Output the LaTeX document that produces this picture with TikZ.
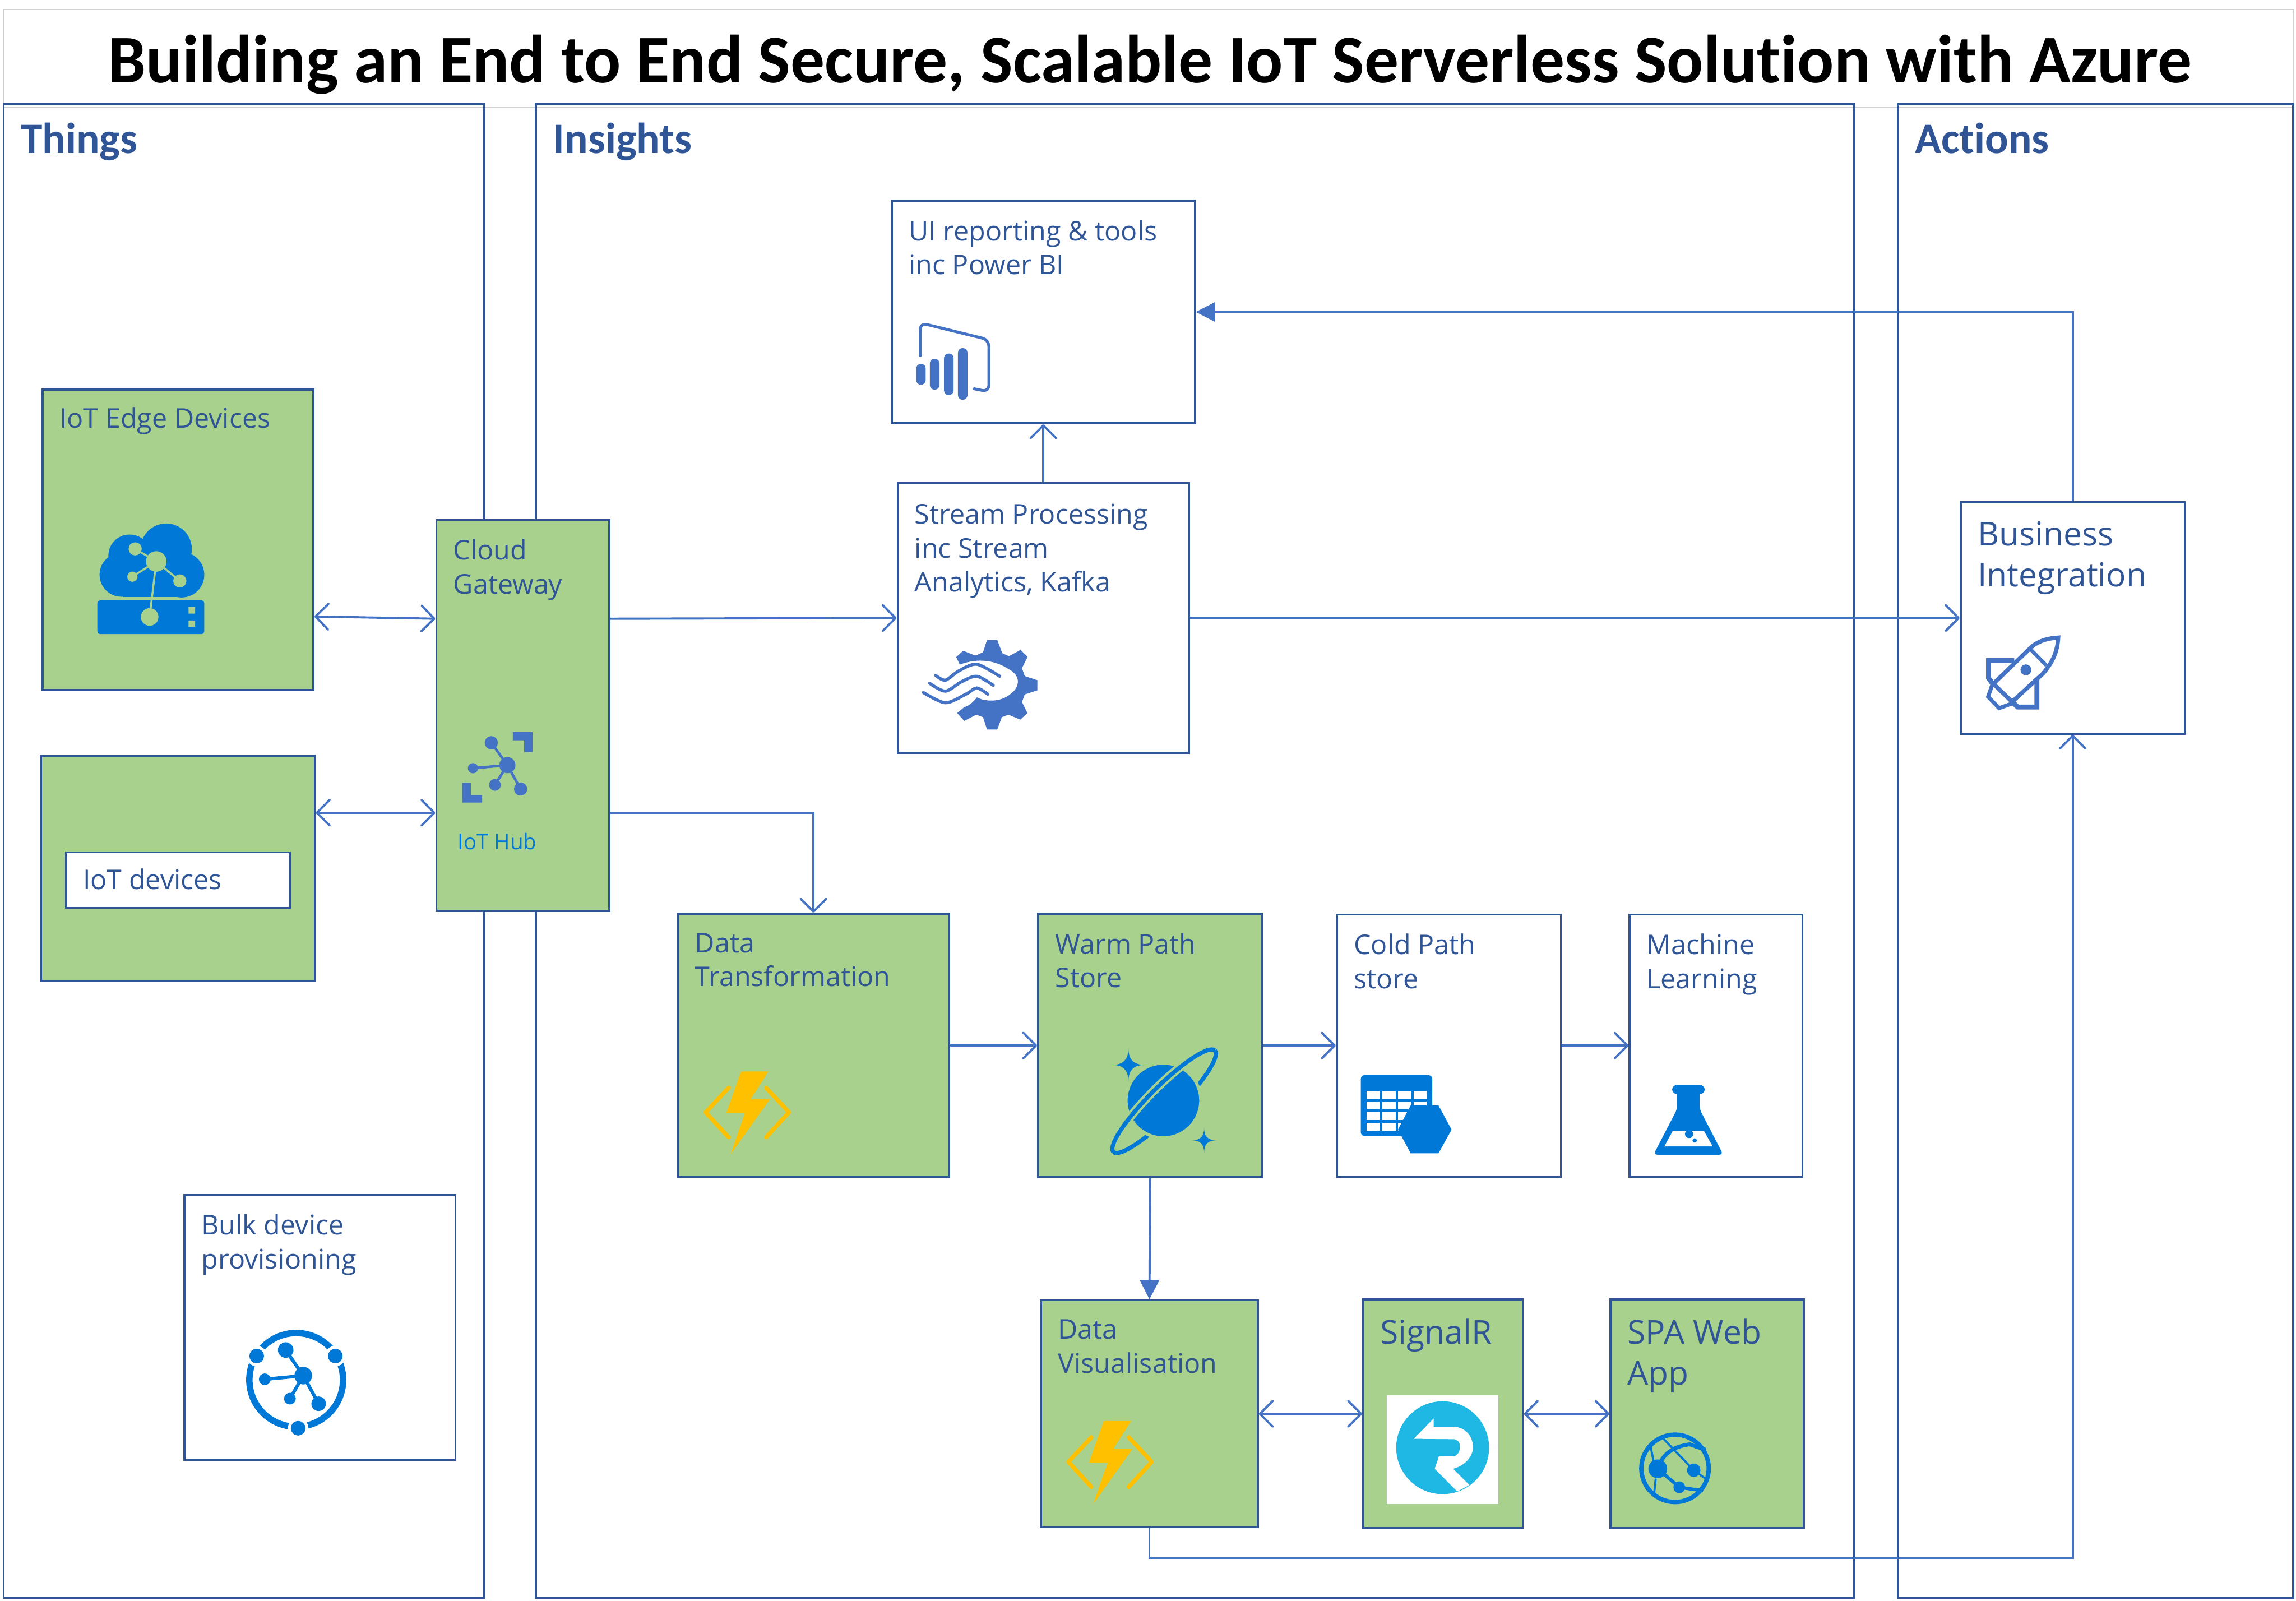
\documentclass[tikz,border=0pt]{standalone}
\usepackage{fontspec}
\setmainfont{Open Sans}
\newfontfamily\titlefont[Ligatures=NoCommon]{Carlito}
\usepackage{xcolor}
\usetikzlibrary{arrows.meta}
\definecolor{linecol}{HTML}{2F5597}
\definecolor{arrowcol}{HTML}{4472C4}
\definecolor{boxgreen}{HTML}{A9D18E}
\definecolor{iconblue}{HTML}{0078D7}
\definecolor{boltcol}{HTML}{FFC000}
\definecolor{signalcol}{HTML}{1FB8E4}
\tikzset{
    panel/.style={draw=linecol, line width=0.8pt, inner sep=0pt},
    whitebox/.style={draw=linecol, line width=0.8pt, fill=white, inner sep=0pt},
    greenbox/.style={whitebox, fill=boxgreen},
    boxtext/.style={anchor=north west, align=left, inner sep=0pt, xshift=0.24cm, yshift=-0.27cm, text=linecol, font=\fontsize{10.55}{13.2}\selectfont},
    bigtext/.style={boxtext, font=\fontsize{12.8}{16}\selectfont},
    headtext/.style={boxtext, yshift=0.01cm, font=\titlefont\bfseries\fontsize{16.9}{20}\selectfont},
    link/.style={draw=arrowcol, line width=0.85pt},
    filledlink/.style={link, -{Triangle[length=7.5pt,width=7.5pt]}},
    pics/funcicon/.style={code={
        \fill[boltcol] (-3.9,-28.3) -- (14.7,-28.3) -- (2.6,-9.3) -- (15.7,-9.3) -- (-11.1,28.3) -- (-1.3,0.2) -- (-14.1,0.2) -- cycle;
        \draw[boltcol, line width=1.6pt, line join=round, line cap=round] (-12.4,-17.2) -- (-28.1,-0.4) -- (-12.4,16.7);
        \draw[boltcol, line width=1.6pt, line join=round, line cap=round] (13.1,-17.2) -- (28.8,-0.4) -- (13.1,16.7);
    }},
    pics/sparkle/.style={code={
        \fill[iconblue] (0,-#1) .. controls (0,-0.3*#1) and (0.3*#1,0) .. (#1,0) .. controls (0.3*#1,0) and (0,0.3*#1) .. (0,#1)
            .. controls (0,0.3*#1) and (-0.3*#1,0) .. (-#1,0) .. controls (-0.3*#1,0) and (0,-0.3*#1) .. (0,-#1) -- cycle;
    }},
}

\begin{document}
\begin{tikzpicture}[x=0.02cm, y=-0.02cm, >={Straight Barb[length=5pt,width=10pt,line width=0.85pt,round]}, node distance=2.8cm]
    \useasboundingbox (0,0) rectangle (1568,1093);

    % title strip and the three columns
    \node[draw=black!18, line width=0.4pt, minimum width=31.28cm, minimum height=1.334cm, inner sep=0pt] (titlebar) at (784.5,40) {};
    \node[font=\titlefont\bfseries\fontsize{26.5}{30}\selectfont, inner sep=0pt] (titletext) at (785,44) {Building an End to End Secure, Scalable IoT Serverless Solution with Azure};
    \node[panel, minimum width=6.56cm, minimum height=20.4cm, label={[headtext]north west:Things}] (things) at (166.5,581) {};
    \node[panel, minimum width=18cm, minimum height=20.4cm, label={[headtext]north west:Insights}] (insights) at (816,581) {};
    \node[panel, minimum width=5.4cm, minimum height=20.4cm, label={[headtext]north west:Actions}] (actions) at (1431,581) {};

    % things
    \node[greenbox, minimum width=3.7cm, minimum height=4.1cm, label={[boxtext, yshift=0.02cm]north west:IoT Edge Devices}] (edge) at (121.5,368.5) {};
    \node[greenbox, minimum width=3.74cm, minimum height=3.08cm, below of=edge, yshift=-1.69cm] (devices) {};
    \node[whitebox, minimum width=3.06cm, minimum height=0.76cm, label={[boxtext, yshift=0.04cm]north west:IoT devices}] (devicesin) at (121.5,601) {};
    \node[whitebox, minimum width=3.7cm, minimum height=3.62cm, label={[boxtext]north west:Bulk device\\provisioning}] (bulk) at (218.5,906.5) {};
    \node[greenbox, minimum width=2.36cm, minimum height=5.34cm, label={[boxtext]north west:Cloud\\Gateway}] (gateway) at (357,488.5) {};
    \node[text=iconblue, font=\fontsize{8.4}{10}\selectfont, inner sep=0pt] (hublabel) at (339.5,574.5) {IoT Hub};

    % insights
    \node[whitebox, minimum width=3.98cm, minimum height=3.68cm, label={[boxtext, yshift=-0.02cm]north west:Stream Processing\\inc Stream\\Analytics, Kafka}] (stream) at (712.5,422) {};
    \node[whitebox, minimum width=4.14cm, minimum height=3.04cm, above of=stream, yshift=1.38cm, label={[boxtext]north west:UI reporting \& tools\\inc Power BI}] (reporting) {};
    \node[greenbox, minimum width=3.7cm, minimum height=3.6cm, label={[boxtext]north west:Data\\Transformation}] (transform) at (555.5,714) {};
    \node[greenbox, minimum width=3.06cm, minimum height=3.6cm, right of=transform, xshift=1.8cm, label={[boxtext]north west:Warm Path\\Store}] (warm) {};
    \node[whitebox, minimum width=3.06cm, minimum height=3.58cm, right of=warm, xshift=1.28cm, label={[boxtext]north west:Cold Path\\store}] (cold) {};
    \node[whitebox, minimum width=2.36cm, minimum height=3.58cm, right of=cold, xshift=0.85cm, label={[boxtext]north west:Machine\\Learning}] (learning) {};
    \node[greenbox, minimum width=2.96cm, minimum height=3.1cm, below of=warm, xshift=-0.01cm, yshift=-2.23cm, label={[boxtext]north west:Data\\Visualisation}] (visual) {};
    \node[greenbox, minimum width=2.18cm, minimum height=3.12cm, right of=visual, xshift=1.21cm, label={[bigtext]north west:SignalR}] (signalr) {};
    \node[greenbox, minimum width=2.64cm, minimum height=3.12cm, right of=signalr, xshift=0.81cm, label={[bigtext]north west:SPA Web\\App}] (spa) {};

    % actions
    \node[whitebox, minimum width=3.06cm, minimum height=3.16cm, label={[bigtext]north west:Business\\Integration}] (business) at (1415.5,422) {};

    % connectors
    \coordinate (low) at (1100,1064);
    \draw[link, <->] ([yshift=-1.05cm]edge.east) -- ([yshift=1.32cm]gateway.west);
    \draw[link, <->] (devices.east |- 0,555) -- (gateway.west |- 0,555);
    \draw[link, ->] ([yshift=1.32cm]gateway.east) -- (stream.west);
    \draw[link, ->] (gateway.east |- 0,555) -| (transform.north);
    \draw[link, ->] (stream.north) -- (reporting.south);
    \draw[link, ->] (stream.east) -- (business.west);
    \draw[filledlink] (business.north) |- (reporting.east);
    \draw[link, ->] (transform.east) -- (warm.west);
    \draw[link, ->] (warm.east) -- (cold.west);
    \draw[link, ->] (cold.east) -- (learning.west);
    \draw[filledlink] (warm.south) -- (visual.north);
    \draw[link, <->] (visual.east) -- (signalr.west);
    \draw[link, <->] (signalr.east) -- (spa.west);
    \draw[link, ->] (visual.south) |- (low) -| (business.south);

    % edge device icon
    \fill[iconblue] (113.5,375) circle (17.5) (88.5,379.5) circle (14.5) (83,392.5) circle (15) (124,392.5) circle (15.5);
    \fill[iconblue] (84,385) rectangle (125,407.5);
    \fill[iconblue, rounded corners=1pt] (66.5,410) rectangle (139.5,433);
    \draw[boxgreen, line width=0.75pt] (92.3,374.8) -- (106.7,383.4) -- (90.4,393.8) (106.7,383.4) -- (122.8,396.7) (106.7,383.4) -- (102.2,421.3);
    \fill[boxgreen] (106.7,383.4) circle (7) (92.3,374.8) circle (4.5) (90.4,393.8) circle (3.5) (122.8,396.7) circle (4.5) (102.2,421.3) circle (6);
    \fill[boxgreen] (128.8,414.6) rectangle (133.3,419) (128.8,423.7) rectangle (133.3,428.1);

    % iot devices hub icon
    \draw[arrowcol, line width=1pt] (335.5,507.2) -- (346.5,522.5) -- (323,524.6) (346.5,522.5) -- (338,536) (346.5,522.5) -- (355.5,538.8);
    \fill[arrowcol] (346.5,522.5) circle (5.5) (335.5,507.2) circle (4.5) (323,524.6) circle (3.5) (338,536) circle (4) (355.5,538.8) circle (4.5);
    \fill[arrowcol] (350.2,500) -- (363.7,500) -- (363.7,513.6) -- (358,513.6) -- (358,505.5) -- (350.2,505.5) -- cycle;
    \fill[arrowcol] (315.7,534.5) -- (321.5,534.5) -- (321.5,543) -- (329.3,543) -- (329.3,548) -- (315.7,548) -- cycle;

    % provisioning icon
    \draw[iconblue, line width=2.5pt] (202.3,942.3) circle (32);
    \fill[white] (175.3,926) circle (7) (229,926) circle (7) (203.6,975.3) circle (7);
    \fill[iconblue] (175.3,926) circle (5) (229,926) circle (5) (203.6,975.3) circle (5);
    \draw[iconblue, line width=1.3pt] (195.1,921.9) -- (207.1,939.4) -- (180.8,941.9) (207.1,939.4) -- (198,955.1) (207.1,939.4) -- (217.6,958.6);
    \fill[iconblue] (207.1,939.4) circle (6) (195.1,921.9) circle (5.3) (180.8,941.9) circle (4) (198,955.1) circle (4) (217.6,958.6) circle (5);

    % power bi icon
    \draw[arrowcol, line width=1.1pt, line cap=round, rounded corners=2.5pt] (628.5,242.9) -- (628.5,220.5) -- (675.3,232) -- (675.3,267.5) -- (665.3,265.5);
    \fill[arrowcol, rounded corners=1.8pt] (625.7,248.5) rectangle (632.2,262.7) (635,245) rectangle (641.6,266.1) (644.7,241.4) rectangle (651.2,269.8) (654.2,237.7) rectangle (660.7,273);

    % stream icon
    \fill[arrowcol] (653,448.7) -- (657.8,444.4) -- (666.1,447.7) -- (671.3,445.5) -- (674.1,437) -- (681,437) -- (684.5,446.1) -- (689,448.1) -- (697,443.8) -- (701.7,448.5) -- (697.9,456.3) -- (699.8,461.7) -- (708.4,464.5) -- (708.4,471.4) -- (699.8,474.2) -- (697.9,479.4) -- (701.6,486.9) -- (696.8,491.4) -- (688.7,488) -- (684.2,489.7) -- (681,498.2) -- (674.1,498.2) -- (671.3,489.7) -- (666.7,488) -- (658.5,492.3) -- (653.7,486.9) -- (658.5,482.9)
        .. controls (662,482) and (665,479) .. (667.2,476.2) .. controls (672,479) and (683,480) .. (690,474) .. controls (697,469) and (697,461) .. (689,457) .. controls (680,451) and (668,449) .. (655.5,453.8) -- cycle;
    \draw[arrowcol, line width=1.2pt, line cap=round] plot[smooth] coordinates {(639,461.2) (645.6,464.5) (655,458) (667.1,453.6) (682.7,461.8)};
    \draw[arrowcol, line width=1.2pt, line cap=round] plot[smooth] coordinates {(634.9,466.6) (645.6,472) (656.7,465.5) (667.1,461.8) (678.3,468)};
    \draw[arrowcol, line width=1.2pt, line cap=round] plot[smooth] coordinates {(630.6,472.9) (645.6,479.9) (659.7,474) (667.1,469.8) (674.6,474.1)};

    % business icon
    \draw[arrowcol, line width=1.6pt, line join=miter] (1405.6,435.4) .. controls (1396,436) and (1390,439) .. (1386.3,442.8) -- (1361.3,466.9) -- (1374.1,479.3) -- (1395.2,459.9) .. controls (1402,452) and (1405,445) .. (1405.6,435.4) -- cycle;
    \draw[arrowcol, line width=1.4pt] (1386.9,443.6) -- (1397.6,454.5);
    \draw[arrowcol, line width=1.9pt] (1375.6,451) -- (1358,451) -- (1358,463) -- (1360.5,466.5);
    \draw[arrowcol, line width=1.9pt] (1391,463.8) -- (1391,482.8) -- (1377.9,482.8) -- (1375,480.1);
    \draw[arrowcol, line width=1.5pt] (1360.5,467.7) -- (1357.7,475.8) -- (1365.2,483.6) -- (1373.8,480.5);
    \fill[arrowcol] (1383.5,457.4) circle (3.7);

    % function icons
    \pic at (510,760) {funcicon};
    \pic at (757.7,998.7) {funcicon};

    % planet icon
    \begin{scope}[shift={(795,752)}, rotate=45]
        \draw[iconblue, line width=1.6pt] (-49,0) arc[start angle=180, end angle=0, x radius=49, y radius=10];
    \end{scope}
    \fill[iconblue, draw=boxgreen, line width=1.2pt] (794.5,751.5) circle (25.5);
    \begin{scope}[shift={(795,752)}, rotate=45]
        \draw[boxgreen, line width=3.4pt] (-34.6,-7.1) arc[start angle=225, end angle=315, x radius=49, y radius=10];
        \draw[iconblue, line width=1.6pt] (-49,0) arc[start angle=180, end angle=360, x radius=49, y radius=10];
    \end{scope}
    \pic at (770.6,727.2) {sparkle=11.5};
    \pic at (822.3,778.7) {sparkle=8.5};

    % table icon
    \fill[iconblue, rounded corners=1.5pt] (929.3,734.2) rectangle (978.1,775.8);
    \foreach \cx in {933.1,944,954.7,965.4} {
        \foreach \cy in {745,752.3,759.6,766.8} {
            \fill[white] (\cx,\cy) rectangle ++(9,5.4);
        }
    }
    \fill[iconblue] (963.4,754.8) -- (982.3,754.8) -- (991.3,771.4) -- (982.3,787.6) -- (963.4,787.6) -- (954.7,771.4) -- cycle;

    % flask icon
    \fill[iconblue, rounded corners=2pt] (1141.9,740.8) rectangle (1164.2,747.2);
    \fill[iconblue, rounded corners=1.5pt] (1145.3,745) -- (1160.7,745) -- (1160.7,757.5) -- (1176.8,788.5) -- (1129.2,788.5) -- (1145.3,757.5) -- cycle;
    \fill[white] (1142.4,772.2) -- (1163.6,772.2) -- (1169.6,782.9) -- (1136.6,782.9) -- cycle;
    \fill[iconblue] (1153.5,774.4) circle (2.8) (1157.3,778.8) circle (1.5);

    % signalr icon
    \fill[white] (947,952.7) rectangle (1023.3,1027.2);
    \fill[signalcol] (985.2,988.6) circle (31.7);
    \fill[white] (965.5,982.5) -- (979.1,968.6) -- (979.1,974.3) -- (993.4,974.3) .. controls (1001,975) and (1005.9,981) .. (1005.9,988.2) .. controls (1005.9,995) and (1000,1001) .. (992.3,1003) -- (1003.4,1014.1) -- (995.2,1018.5) -- (979.8,1003) -- (982.7,994.5) -- (993.4,994.5) .. controls (996,993) and (997,991) .. (997,988.2) .. controls (997,985) and (996,983.5) .. (993.4,982.8) -- cycle;

    % web app icon
    \draw[iconblue, line width=1.7pt] (1143.9,1002.7) circle (23);
    \draw[iconblue, line width=0.8pt] (1136,982.5) -- (1156.7,1004) -- (1164.6,1009.7) (1127,986.3) -- (1129.6,1000) (1130.7,1009.7) -- (1129.6,1020.4);
    \draw[iconblue, line width=1.5pt] (1132.1,1003) .. controls (1135,994) and (1141,988) .. (1153.9,986.3) -- (1164.6,990);
    \draw[iconblue, line width=1.3pt] (1132.1,1003) -- (1146.8,1015.6) -- (1163,1018);
    \fill[iconblue] (1132.1,1003) circle (6.4) (1156.7,1004) circle (4.6) (1146.8,1015.6) circle (4);
\end{tikzpicture}
\end{document}
